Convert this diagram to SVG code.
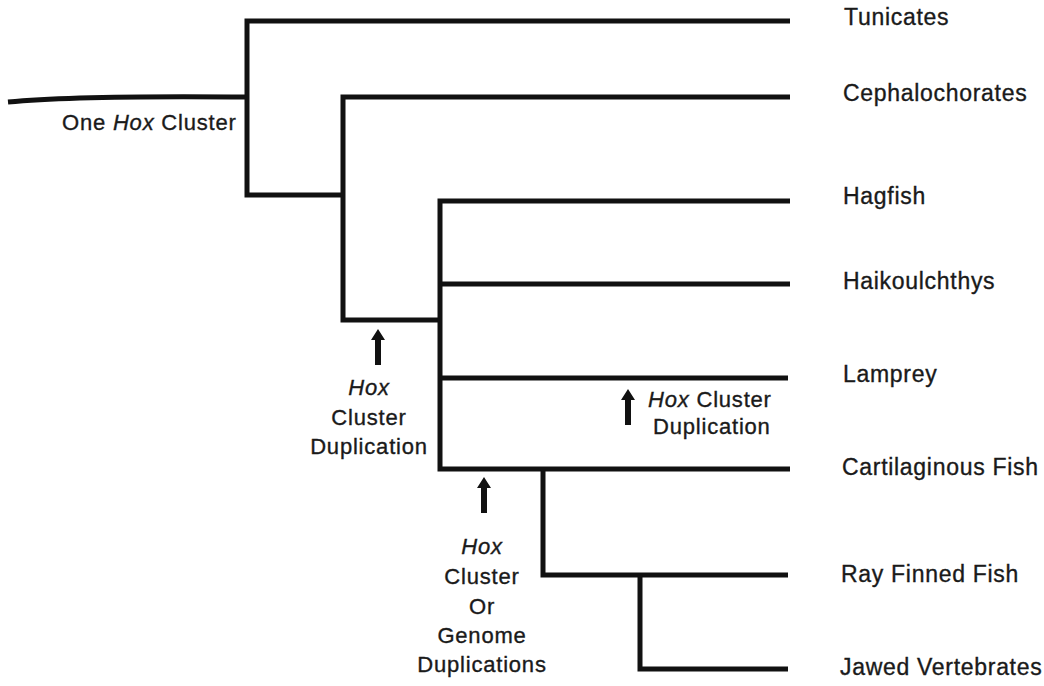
<svg xmlns="http://www.w3.org/2000/svg" width="1044" height="686" viewBox="0 0 1044 686">
<style>
.br{fill:none;stroke:#111;stroke-width:5;stroke-linejoin:miter;stroke-linecap:butt}
.t{font-family:"Liberation Sans",Arial,sans-serif;font-size:23px;fill:#1a1a1a;stroke:#1a1a1a;stroke-width:0.35px;letter-spacing:0.7px}
.s{font-family:"Liberation Sans",Arial,sans-serif;font-size:22px;fill:#1a1a1a;stroke:#1a1a1a;stroke-width:0.35px;letter-spacing:0.8px}
.i{font-style:italic}
.ar{fill:#111}
</style>
<defs>
<path id="arrow" d="M-3,36 V11 H-7 L0,0 L7,11 H3 V36 Z"/>
</defs>
<rect width="1044" height="686" fill="#fff"/>
<g id="connectors">
<path class="br" d="M8,102 C60,97 150,96 249,97"/>
<path class="br" d="M790,21 H247 V195 H343"/>
<path class="br" d="M790,97 H343 V320 H440"/>
<path class="br" d="M790,201 H440 V469 H790"/>
<path class="br" d="M440,284 H790"/>
<path class="br" d="M440,378 H788"/>
<path class="br" d="M543,469 V575 H788"/>
<path class="br" d="M640,575 V669 H788"/>
</g>
<g id="tunicates"><text class="t" x="844" y="25">Tunicates</text></g>
<g id="cephalochorates"><text class="t" x="843" y="101">Cephalochorates</text></g>
<g id="hagfish"><text class="t" x="843" y="204">Hagfish</text></g>
<g id="haikouichthys"><text class="t" x="843" y="289">Haikoulchthys</text></g>
<g id="lamprey"><text class="t" x="843" y="382">Lamprey</text></g>
<g id="cartilaginous"><text class="t" x="842" y="475">Cartilaginous Fish</text></g>
<g id="rayfinned"><text class="t" x="841" y="582">Ray Finned Fish</text></g>
<g id="jawed"><text class="t" x="840" y="675">Jawed Vertebrates</text></g>
<g id="one-hox"><text class="s" x="62" y="130">One <tspan class="i">Hox</tspan> Cluster</text></g>
<g id="dup1">
<use href="#arrow" class="ar" x="378" y="329"/>
<text class="s" text-anchor="middle" x="369" y="395"><tspan class="i">Hox</tspan><tspan x="369" y="425">Cluster</tspan><tspan x="369" y="454">Duplication</tspan></text>
</g>
<g id="dup2">
<use href="#arrow" class="ar" x="484" y="477"/>
<text class="s" text-anchor="middle" x="482" y="554"><tspan class="i">Hox</tspan><tspan x="482" y="584">Cluster</tspan><tspan x="482" y="614">Or</tspan><tspan x="482" y="643">Genome</tspan><tspan x="482" y="672">Duplications</tspan></text>
</g>
<g id="dup3">
<use href="#arrow" class="ar" x="628" y="389"/>
<text class="s" x="648" y="407"><tspan class="i">Hox</tspan> Cluster</text>
<text class="s" x="653" y="434">Duplication</text>
</g>
</svg>
